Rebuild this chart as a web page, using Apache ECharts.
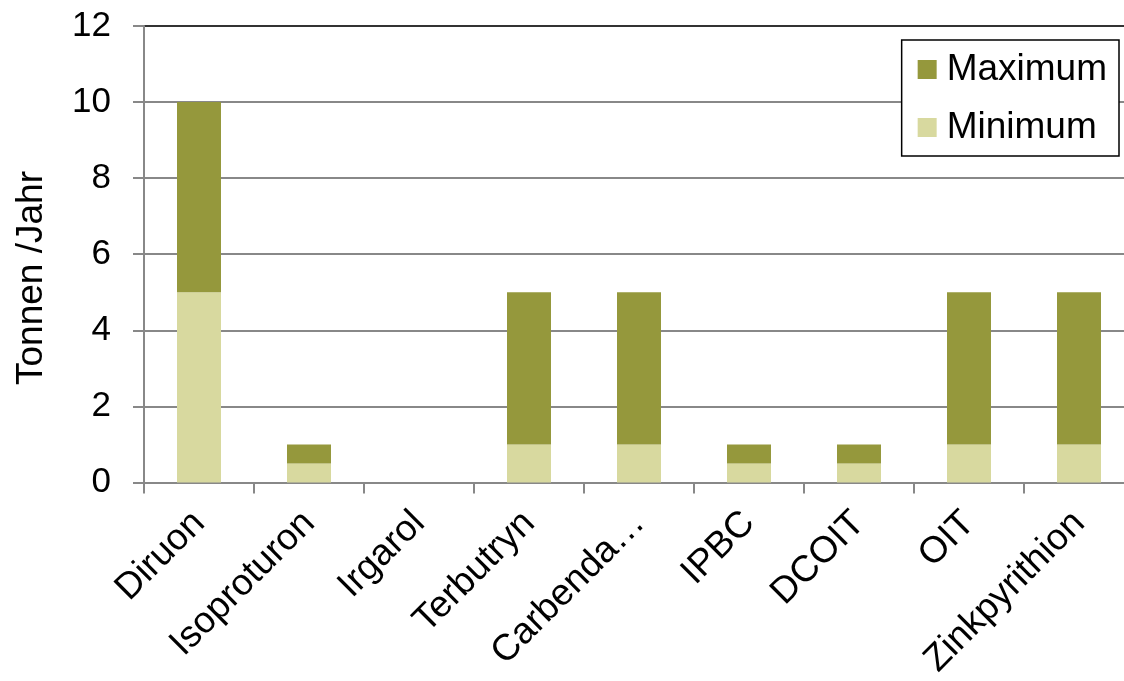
<!DOCTYPE html>
<html>
<head>
<meta charset="utf-8">
<script src="https://cdn.jsdelivr.net/npm/echarts@6/dist/echarts.min.js"></script>
<style>
  html, body { margin: 0; padding: 0; background: #fff; overflow: hidden; }
  #chart { width: 1134px; height: 681px; }
</style>
</head>
<body>
<div id="chart"></div>
<script>
// Biocide substances and their estimated yearly amounts (tonnes/year)
const categories = ['Diruon', 'Isoproturon', 'Irgarol', 'Terbutryn', 'Carbenda…', 'IPBC', 'DCOIT', 'OIT', 'Zinkpyrithion'];
// Lower bound of the estimate
const minimumValues = [5, 0.5, 0, 1, 1, 0.5, 0.5, 1, 1];
// Extra amount stacked on top up to the upper bound
const maximumValues = [5, 0.5, 0, 4, 4, 0.5, 0.5, 4, 4];
const yTicks = [0, 2, 4, 6, 8, 10, 12];
const yTitle = 'Tonnen /Jahr';

const FONT = '"Liberation Sans", Arial, sans-serif';
const FS = 35;
const COLOR_MAX = '#95983c';
const COLOR_MIN = '#d8d99f';

const chart = echarts.init(document.getElementById('chart'), null, { renderer: 'canvas' });

chart.setOption({
  animation: false,
  backgroundColor: '#ffffff',
  textStyle: { fontFamily: FONT },
  grid: { left: 144, right: 0, top: 26, height: 459, containLabel: false },
  graphic: [
    {
      type: 'text',
      x: 32,
      y: 278,
      rotation: Math.PI / 2,
      style: {
        text: yTitle,
        font: '37px ' + FONT,
        fill: '#000',
        align: 'center',
        verticalAlign: 'middle'
      }
    }
  ],
  legend: {
    right: 15,
    top: 40,
    orient: 'vertical',
    data: ['Maximum', 'Minimum'],
    itemWidth: 19,
    itemHeight: 19,
    itemGap: 21,
    padding: [11, 12, 10, 16],
    borderColor: '#000',
    borderWidth: 1.5,
    backgroundColor: '#fff',
    icon: 'rect',
    textStyle: { fontSize: 37, color: '#000', fontFamily: FONT, padding: [0, 0, 0, 5] }
  },
  xAxis: {
    type: 'category',
    data: categories,
    boundaryGap: true,
    axisLine: { show: true, lineStyle: { color: '#888', width: 2 } },
    axisTick: { show: true, length: 11, lineStyle: { color: '#888', width: 2 } },
    axisLabel: {
      interval: 0,
      rotate: 45,
      margin: 35,
      fontSize: 37,
      color: '#000',
      fontFamily: FONT
    }
  },
  yAxis: {
    type: 'value',
    min: yTicks[0],
    max: yTicks[yTicks.length - 1],
    interval: 2,
    axisLine: { show: true, lineStyle: { color: '#888', width: 2 } },
    axisTick: { show: true, length: 11, inside: false, lineStyle: { color: '#888', width: 2 } },
    axisLabel: { margin: 33, fontSize: FS, color: '#000', fontFamily: FONT },
    splitLine: {
      show: true,
      lineStyle: { color: ['#888', '#888', '#888', '#888', '#888', '#888', '#333'], width: 2 }
    }
  },
  series: [
    {
      name: 'Minimum',
      type: 'bar',
      stack: 'range',
      barWidth: 44,
      data: minimumValues,
      itemStyle: { color: COLOR_MIN }
    },
    {
      name: 'Maximum',
      type: 'bar',
      stack: 'range',
      barWidth: 44,
      data: maximumValues,
      itemStyle: { color: COLOR_MAX }
    }
  ]
});
</script>
</body>
</html>
